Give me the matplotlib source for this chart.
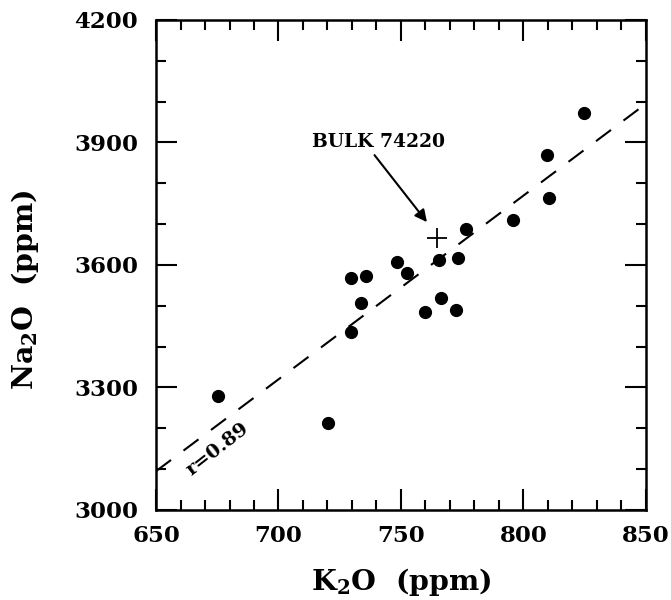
import matplotlib
matplotlib.use("Agg")
import matplotlib.pyplot as plt
from matplotlib.ticker import MultipleLocator

plt.rcParams['font.family'] = 'DejaVu Serif'
plt.rcParams['font.weight'] = 'bold'
plt.rcParams['mathtext.fontset'] = 'dejavuserif'

# K2O (ppm) and Na2O (ppm) of the samples
k2o = [675.2, 720.1, 729.7, 735.6, 733.6, 729.7, 748.3, 752.5, 759.6,
       766.5, 765.4, 773.1, 772.5, 776.6, 795.9, 809.6, 810.5, 824.5]
na2o = [3278, 3214, 3569, 3574, 3506, 3435, 3608, 3581, 3484,
        3518, 3611, 3618, 3491, 3687, 3711, 3869, 3765, 3973]

# bulk sample
bulk_k2o = 764.5
bulk_na2o = 3667

# regression line ends
fit_x = [650, 850]
fit_y = [3095, 3995]

fig = plt.figure(figsize=(6.71, 6.0), dpi=100)
ax = fig.add_axes([0.2325, 0.15, 0.7302, 0.8167])

ax.plot(fit_x, fit_y, color='k', lw=1.5, dashes=(9, 7.5))
ax.plot(k2o, na2o, 'o', color='k', ms=8.5, zorder=3)
ax.plot(bulk_k2o, bulk_na2o, '+', color='k', ms=14, mew=1.3, zorder=3)

ax.annotate('', xy=(760.6, 3705), xytext=(739.2, 3869),
            arrowprops=dict(arrowstyle='-|>', color='k', lw=1.5,
                            mutation_scale=18, shrinkA=0, shrinkB=0))
ax.text(740.7, 3900, 'BULK 74220', ha='center', va='center',
        fontsize=13.5, fontweight='bold')
ax.text(675.2, 3148, 'r=0.89', ha='center', va='center', rotation=38,
        fontsize=14, fontweight='bold')

ax.set_xlim(650, 850)
ax.set_ylim(3000, 4200)
ax.xaxis.set_major_locator(MultipleLocator(50))
ax.xaxis.set_minor_locator(MultipleLocator(10))
ax.yaxis.set_major_locator(MultipleLocator(300))
ax.yaxis.set_minor_locator(MultipleLocator(100))
ax.tick_params(which='both', direction='in', top=True, right=True,
               width=1.5, labelsize=16.5)
ax.tick_params(axis='x', pad=11)
ax.tick_params(axis='y', pad=13)
ax.tick_params(which='major', length=15)
ax.tick_params(which='minor', length=7)
for s in ax.spines.values():
    s.set_linewidth(1.8)

ax.set_xlabel(r'K$_\mathbf{2}$O  (ppm)', fontsize=20.5, fontweight='bold')
ax.set_ylabel(r'Na$_\mathbf{2}$O  (ppm)', fontsize=20.5, fontweight='bold')
ax.xaxis.set_label_coords(0.5, -0.115)
ax.yaxis.set_label_coords(-0.235, 0.45)

fig.savefig('out.png', dpi=100)
